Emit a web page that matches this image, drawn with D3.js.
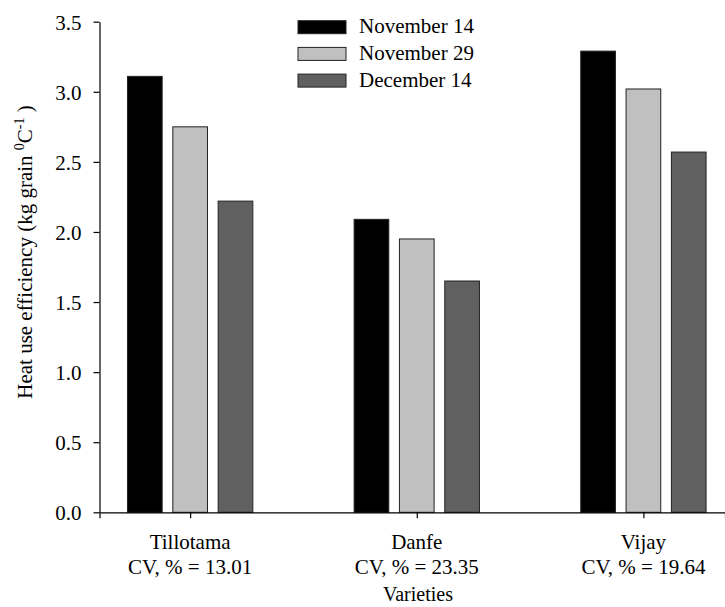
<!DOCTYPE html>
<html>
<head>
<meta charset="utf-8">
<script src="https://cdn.jsdelivr.net/npm/d3@7"></script>
<style>
  body { margin: 0; background: #fff; }
</style>
</head>
<body>
<svg id="chart" width="725" height="607" font-family="'Liberation Serif', 'DejaVu Serif', serif"></svg>
<script>
// heat use efficiency by variety and sowing date
var varieties = ["Tillotama", "Danfe", "Vijay"];
var cvLabels = ["CV, % = 13.01", "CV, % = 23.35", "CV, % = 19.64"];
var sowingDates = ["November 14", "November 29", "December 14"];
var nov14 = [3.11, 2.09, 3.29];
var nov29 = [2.75, 1.95, 3.02];
var dec14 = [2.22, 1.65, 2.57];
var yTicks = [0, 0.5, 1, 1.5, 2, 2.5, 3, 3.5];

var fills = ["#000000", "#c0c0c0", "#606060"];
var series = [nov14, nov29, dec14];

var svg = d3.select("#chart");
var fontSize = 21;
var serif = "'Liberation Serif', 'DejaVu Serif', serif";

//scales: varieties sit at 1,2,3 on a linear axis
let xScale = d3.scaleLinear().domain([0.6, 3.36]).range([99.5, 725]);
let yScale = d3.scaleLinear().domain([0, 3.5]).range([512.3, 21.7]);
let offset = 0.2, barW = 0.153;

//bars
series.forEach(function(vals, s){
  svg.append("g").selectAll("rect").data(vals).enter().append("rect")
    .attr("x", (d,i) => xScale(i + 1 + (s-1)*offset - barW/2))
    .attr("width", xScale(barW) - xScale(0))
    .attr("y", d => yScale(d))
    .attr("height", d => yScale(0) - yScale(d))
    .attr("fill", fills[s])
    .attr("stroke", "#222")
    .attr("stroke-width", 1);
});

//y axis
let yAxis = d3.axisLeft(yScale).tickValues(yTicks).tickFormat(d3.format(".1f")).tickSizeOuter(0).tickPadding(12);
let gy = svg.append("g")
  .attr("transform", "translate(" + xScale(0.6) + ",0)")
  .call(yAxis)
  .attr("font-family", serif).attr("font-size", fontSize);
gy.selectAll("text").attr("fill", "#000").attr("dy", "0.36em");

//x axis
let xAxis = d3.axisBottom(xScale).tickValues([1,2,3]).tickFormat("").tickSizeOuter(0).tickSize(6);
let gx = svg.append("g")
  .attr("transform", "translate(0," + yScale(0) + ")")
  .call(xAxis);
svg.selectAll(".domain, .tick line").attr("stroke", "#000").attr("stroke-width", 1.2);

//category labels
varieties.forEach(function(v, i){
  svg.append("text")
    .attr("x", xScale(i+1)).attr("y", 549)
    .attr("text-anchor", "middle").attr("font-size", fontSize).attr("font-family", serif)
    .text(v);
  svg.append("text")
    .attr("x", xScale(i+1)).attr("y", 574)
    .attr("text-anchor", "middle").attr("font-size", fontSize).attr("font-family", serif)
    .text(cvLabels[i]);
});

//axis titles
svg.append("text")
  .attr("x", 418).attr("y", 601)
  .attr("text-anchor", "middle").attr("font-size", 20).attr("font-family", serif)
  .text("Varieties");

let yl = svg.append("text")
  .attr("transform", "translate(32,252) rotate(-90)")
  .attr("text-anchor", "middle").attr("font-size", 21).attr("font-family", serif)
  .attr("xml:space", "preserve");
yl.append("tspan").text("Heat use efficiency (kg grain ");
yl.append("tspan").attr("font-size", 14).attr("baseline-shift", "55%").text("0");
yl.append("tspan").text("C");
yl.append("tspan").attr("font-size", 14).attr("baseline-shift", "55%").text("-1");
yl.append("tspan").text(" )");

//legend
let legend = svg.append("g").selectAll("g").data(sowingDates).enter().append("g")
  .attr("transform", (d,i) => "translate(298," + (20.7 + i*26.7) + ")");
legend.append("rect")
  .attr("width", 48).attr("height", 13)
  .attr("fill", (d,i) => fills[i])
  .attr("stroke", "#222").attr("stroke-width", 1);
legend.append("text")
  .attr("x", 61).attr("y", 12.6)
  .attr("font-size", fontSize).attr("font-family", serif)
  .text(d => d);
</script>
</body>
</html>
